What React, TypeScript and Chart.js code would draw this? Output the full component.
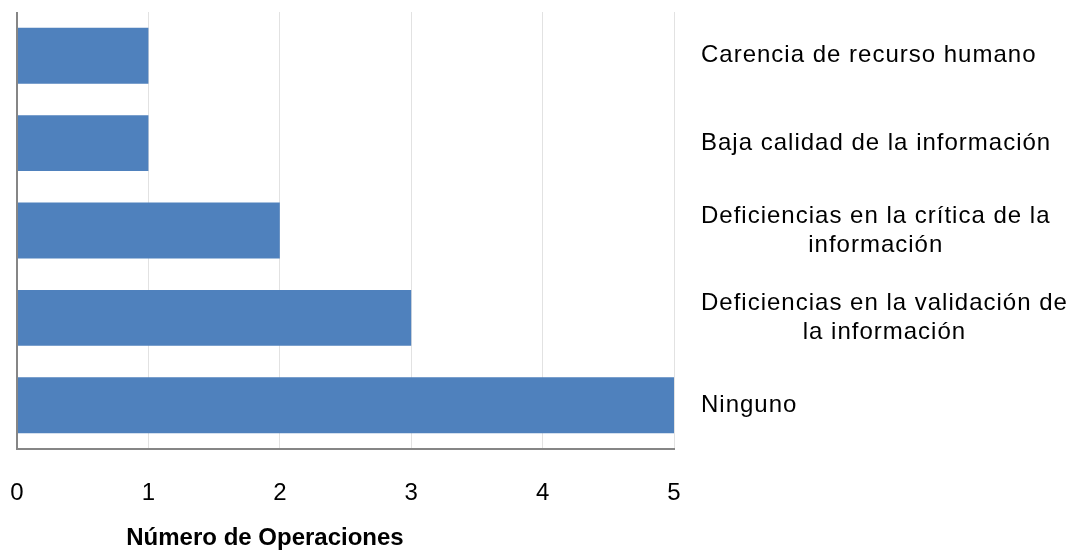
import React, { useEffect, useRef } from "react";
import { Chart, registerables } from "chart.js";

Chart.register(...registerables);

const categories: string[][] = [
  ["Carencia de recurso humano"],
  ["Baja calidad de la información"],
  ["Deficiencias en la crítica de la", "información"],
  ["Deficiencias en la validación de", "la información"],
  ["Ninguno"],
];
const values: number[] = [1, 1, 2, 3, 5];
const xTicks: number[] = [0, 1, 2, 3, 4, 5];
const axisTitle = "Número de Operaciones";

const FONT = '"Liberation Sans", Arial, sans-serif';

const labelPlugin = {
  id: "rightLabels",
  afterDraw(chart: any) {
    const ctx = chart.ctx as CanvasRenderingContext2D;
    const yScale = chart.scales.y;
    const area = chart.chartArea;
    ctx.save();
    ctx.font = `24px ${FONT}`;
    (ctx as any).letterSpacing = "1px";
    ctx.fillStyle = "#000000";
    ctx.textBaseline = "middle";
    ctx.textAlign = "center";
    const lh = 29;
    categories.forEach((lines, i) => {
      const widths = lines.map((l) => ctx.measureText(l).width);
      const bw = Math.max(...widths);
      const left = area.right + 27;
      const cy = yScale.getPixelForValue(i);
      lines.forEach((l, j) => {
        const y = cy + (j - (lines.length - 1) / 2) * lh;
        ctx.fillText(l, left + bw / 2, y);
      });
    });
    // axis title
    (ctx as any).letterSpacing = "0px";
    ctx.font = `bold 24px ${FONT}`;
    ctx.fillText(axisTitle, area.left + 248, 538);
    ctx.restore();
  },
};

export default function App() {
  const ref = useRef<HTMLCanvasElement | null>(null);
  useEffect(() => {
    if (!ref.current) return;
    const chart = new Chart(ref.current, {
      type: "bar",
      data: {
        labels: categories.map((c) => c.join(" ")),
        datasets: [
          {
            data: values,
            backgroundColor: "#4F81BD",
            borderWidth: 0,
            categoryPercentage: 1,
            barPercentage: 0.64,
          },
        ],
      },
      options: {
        indexAxis: "y",
        animation: false,
        responsive: true,
        maintainAspectRatio: false,
        layout: { padding: { left: 17, top: 12, right: 404, bottom: 0 } },
        plugins: {
          legend: { display: false },
          tooltip: { enabled: false },
          title: { display: false },
        },
        scales: {
          x: {
            type: "linear",
            min: xTicks[0],
            max: xTicks[xTicks.length - 1],
            afterBuildTicks: (s: any) => {
              s.ticks = xTicks.map((v) => ({ value: v }));
            },
            afterFit: (s: any) => {
              s.height = 109;
              s.paddingLeft = 0;
              s.paddingRight = 0;
            },
            ticks: {
              font: { family: FONT, size: 24 },
              color: "#000000",
              padding: 30,
              maxRotation: 0,
            },
            grid: {
              drawTicks: false,
              color: (c: any) => (c.index === 0 ? "#868686" : "#e2e2e2"),
              lineWidth: (c: any) => (c.index === 0 ? 2 : 1),
            },
            border: { display: true, color: "#868686", width: 2 },
          },
          y: {
            display: false,
            grid: { display: false },
          },
        },
      },
      plugins: [labelPlugin],
    });
    return () => chart.destroy();
  }, []);
  return (
    <div style={{ position: "fixed", left: 0, top: 0, width: 1078, height: 558, background: "#fff" }}>
      <canvas ref={ref} />
    </div>
  );
}
